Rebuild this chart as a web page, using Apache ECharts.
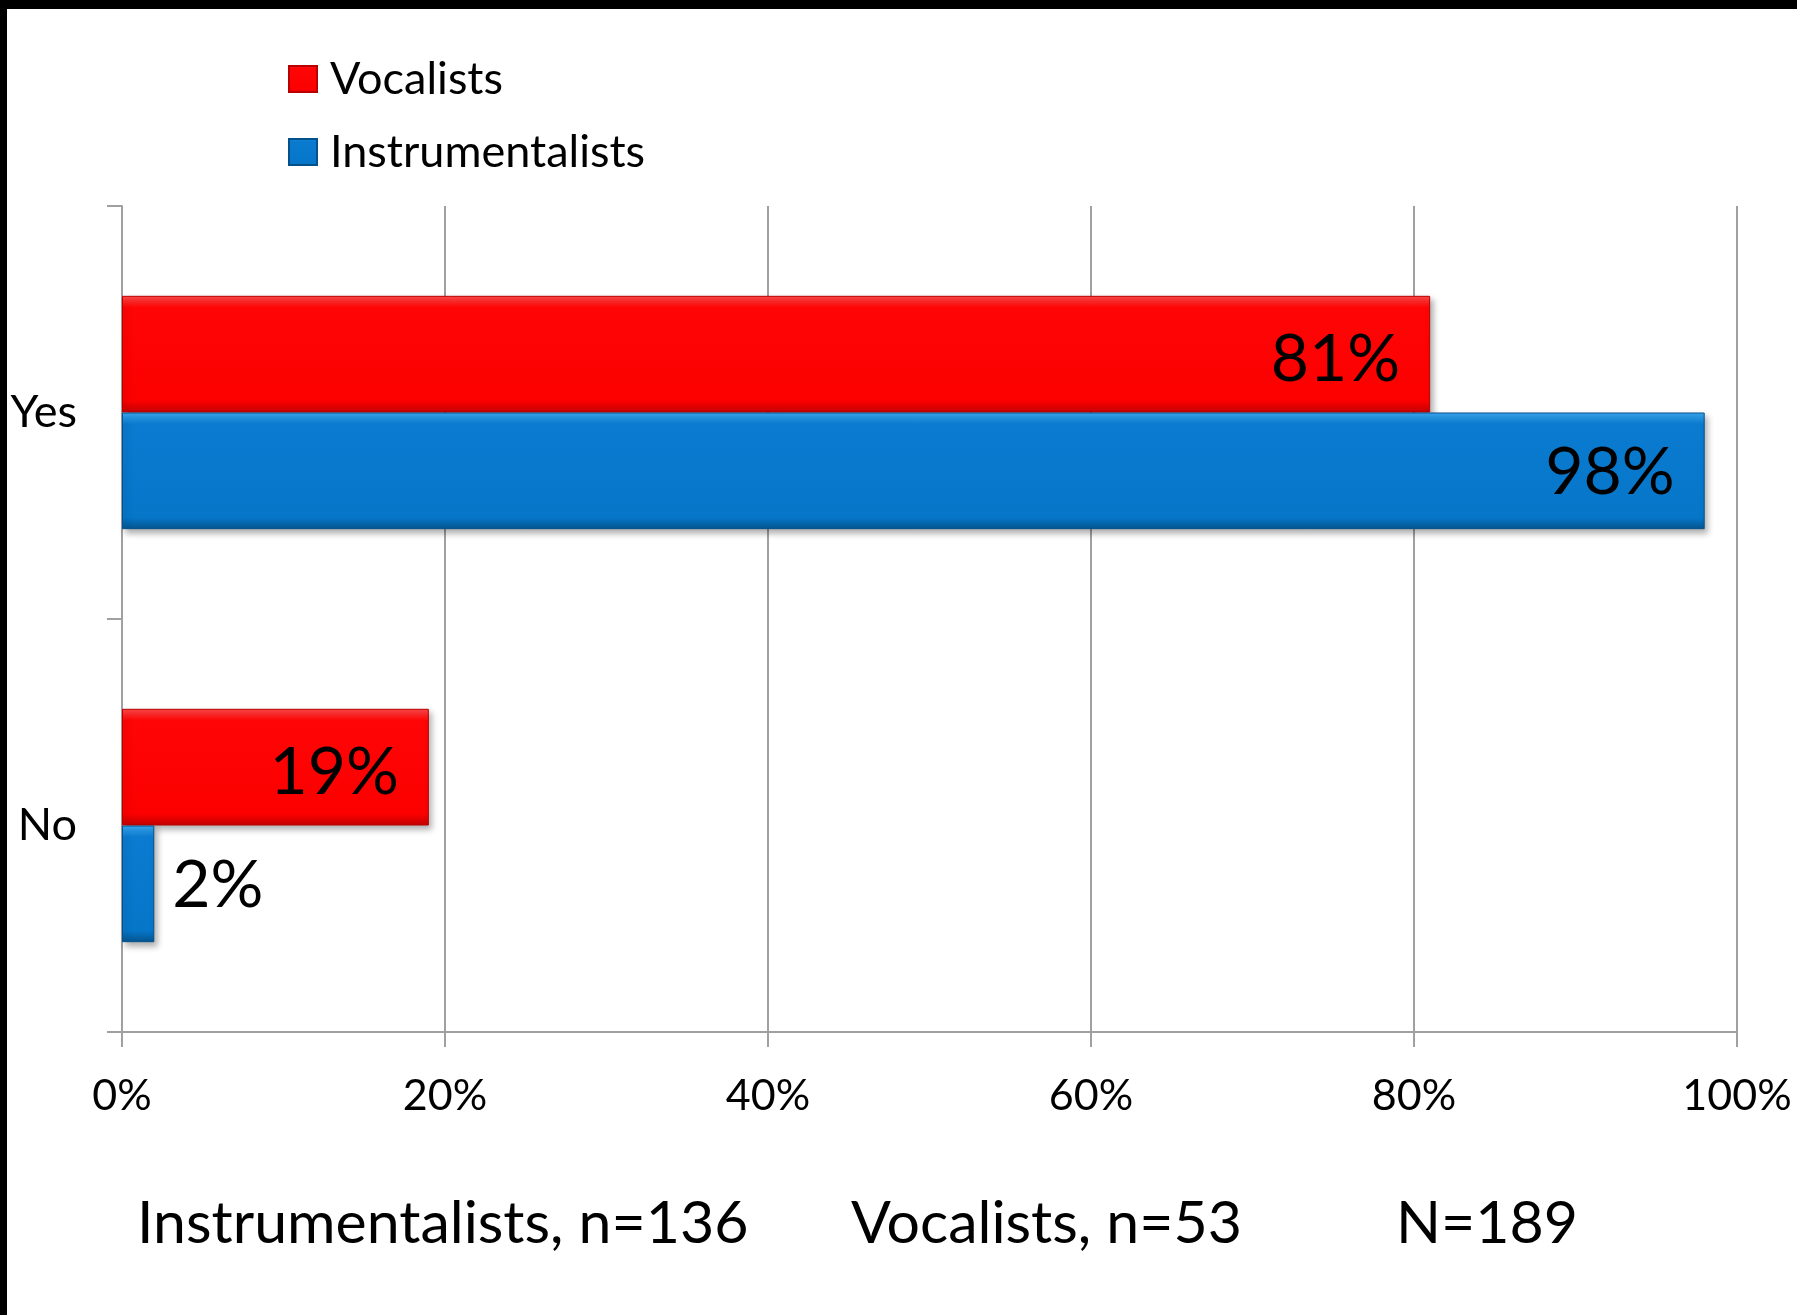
<!DOCTYPE html>
<html><head><meta charset="utf-8">
<script src="https://cdn.jsdelivr.net/npm/echarts@6/dist/echarts.min.js"></script>
<style>html,body{margin:0;padding:0;background:#fff}#c{width:1797px;height:1315px}</style>
</head><body><div id="c"></div>
<script>
const categories = ['Yes', 'No'];
const seriesNames = ['Vocalists', 'Instrumentalists'];
const vocalists = [81, 19];
const instrumentalists = [98, 2];
const xTickStep = 20;
const footnotes = ['Instrumentalists, n=136', 'Vocalists, n=53', 'N=189'];
const footnoteX = [137, 851, 1396];

const FONT = 'Lato';
const chart = echarts.init(document.getElementById('c'));

function grad(top, main, mainEnd, bottom) {
  return new echarts.graphic.LinearGradient(0, 0, 0, 1, [
    {offset: 0, color: top}, {offset: 0.1, color: main},
    {offset: 0.9, color: mainEnd}, {offset: 1, color: bottom}
  ]);
}
const redFill = grad('#ff4a4a', '#ff0505', '#fc0000', '#c20000');
const blueFill = grad('#3ba9f2', '#0a7bd0', '#0676c9', '#04558f');

function mkData(arr) {
  return arr.map(v => v < 10
    ? {value: v, label: {position: 'right', distance: 18}}
    : {value: v});
}

const gray = '#a0a0a0';
chart.setOption({
  backgroundColor: '#fff',
  animation: false,
  grid: {left: 122, right: 60, top: 206, bottom: 283, containLabel: false},
  legend: {
    orient: 'vertical', left: 283, top: 51,
    itemWidth: 28, itemHeight: 26, itemGap: 27,
    icon: 'rect',
    data: seriesNames,
    textStyle: {fontFamily: FONT, fontSize: 45, color: '#000', lineHeight: 46, padding: [0, 0, 0, 8]}
  },
  xAxis: {
    type: 'value', min: 0, max: 100, interval: xTickStep,
    axisLine: {show: true, lineStyle: {color: gray, width: 2}},
    axisTick: {show: true, length: 15, lineStyle: {color: gray, width: 2}},
    splitLine: {show: true, lineStyle: {color: gray, width: 2}},
    axisLabel: {formatter: '{value}%', fontFamily: FONT, fontSize: 43, color: '#000', margin: 43}
  },
  yAxis: {
    type: 'category', data: categories, inverse: true,
    axisLine: {show: true, lineStyle: {color: gray, width: 2}},
    axisTick: {show: true, length: 15, lineStyle: {color: gray, width: 2}},
    axisLabel: {fontFamily: FONT, fontSize: 45, color: '#000', margin: 45}
  },
  series: [
    {
      name: seriesNames[0], type: 'bar', data: mkData(vocalists),
      barGap: '0%', barCategoryGap: '43.5%',
      itemStyle: {color: redFill, borderColor: '#b80000', borderWidth: 1,
        shadowBlur: 6, shadowOffsetX: 3, shadowOffsetY: 4, shadowColor: 'rgba(0,0,0,0.3)'},
      label: {show: true, position: 'insideRight', distance: 30, formatter: '{c}%', offset: [0, 6],
        fontFamily: FONT, fontSize: 66, color: '#000'}
    },
    {
      name: seriesNames[1], type: 'bar', data: mkData(instrumentalists),
      barGap: '0%', barCategoryGap: '43.5%',
      itemStyle: {color: blueFill, borderColor: '#04508a', borderWidth: 1,
        shadowBlur: 6, shadowOffsetX: 3, shadowOffsetY: 4, shadowColor: 'rgba(0,0,0,0.3)'},
      label: {show: true, position: 'insideRight', distance: 30, formatter: '{c}%', offset: [0, 2],
        fontFamily: FONT, fontSize: 66, color: '#000'}
    }
  ],
  graphic: [
    {type: 'rect', left: 0, top: 0, shape: {width: 1797, height: 9}, style: {fill: '#000'}, z: 100},
    {type: 'rect', left: 0, top: 0, shape: {width: 7, height: 1315}, style: {fill: '#000'}, z: 100}
  ].concat(footnotes.map((t, i) => ({
    type: 'text', x: footnoteX[i], y: 1224,
    style: {text: t, fontFamily: FONT, fontSize: 59, fill: '#000', textVerticalAlign: 'middle'}
  })))
});
</script></body></html>
